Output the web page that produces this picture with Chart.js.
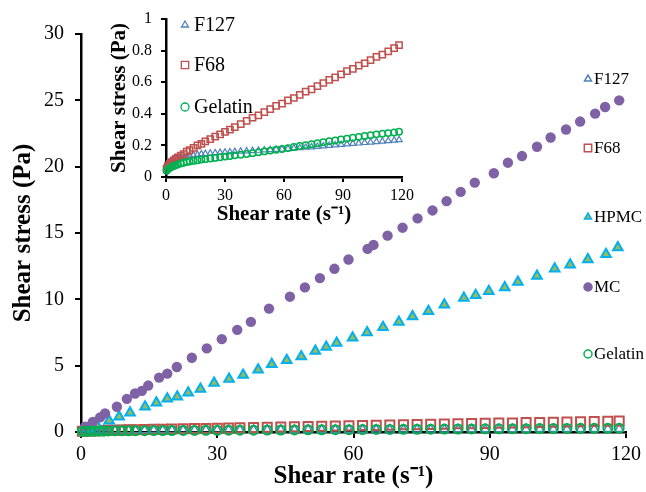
<!DOCTYPE html>
<html><head><meta charset="utf-8">
<script src="https://cdn.jsdelivr.net/npm/chart.js@4.4.0/dist/chart.umd.min.js"></script>
<style>
html,body{margin:0;padding:0;background:#fff;}
#wrap{position:relative;width:646px;height:492px;overflow:hidden;}
#main{position:absolute;left:0;top:0;}
#inset{position:absolute;left:96px;top:0;}
</style></head><body>
<div id="wrap">
<canvas id="main" width="646" height="492"></canvas>
<canvas id="inset" width="330" height="230"></canvas>
</div>
<script>
// ---- data ----
const seriesNames = ['F127', 'F68', 'HPMC', 'MC', 'Gelatin'];
const insetNames = ['F127', 'F68', 'Gelatin'];
const xTicks = [0, 30, 60, 90, 120];
const mainYTicks = [0, 5, 10, 15, 20, 25, 30];
const insetYTicks = [0, 0.2, 0.4, 0.6, 0.8, 1];

// shear rate values for the low-viscosity samples
const sampleX = [0.3, 1, 2, 3, 4, 5, 6, 7.5, 9, 10.5, 12, 14, 16, 18, 20, 22.5, 25, 27.5, 30, 32.5, 35, 38, 41, 44, 47, 50, 53, 56, 59, 62, 65, 68, 71, 74, 77, 80, 83, 86, 89, 92, 95, 98, 101, 104, 107, 110, 113, 116, 118.5];
const f127Y = [0.06, 0.075, 0.09, 0.1, 0.11, 0.115, 0.12, 0.125, 0.13, 0.133, 0.136, 0.139, 0.142, 0.145, 0.147, 0.15, 0.152, 0.154, 0.156, 0.158, 0.16, 0.162, 0.164, 0.166, 0.168, 0.17, 0.172, 0.174, 0.176, 0.178, 0.181, 0.184, 0.187, 0.19, 0.193, 0.196, 0.199, 0.202, 0.205, 0.208, 0.211, 0.214, 0.217, 0.22, 0.223, 0.226, 0.229, 0.232, 0.235];
const f68Y = [0.055, 0.07, 0.085, 0.095, 0.105, 0.115, 0.125, 0.135, 0.145, 0.16, 0.17, 0.185, 0.2, 0.21, 0.225, 0.24, 0.255, 0.27, 0.285, 0.3, 0.315, 0.335, 0.355, 0.375, 0.39, 0.41, 0.43, 0.45, 0.465, 0.485, 0.5, 0.52, 0.54, 0.555, 0.575, 0.595, 0.615, 0.63, 0.65, 0.67, 0.685, 0.705, 0.72, 0.74, 0.76, 0.775, 0.795, 0.815, 0.835];
const gelatinY = [0.04, 0.05, 0.058, 0.065, 0.07, 0.075, 0.08, 0.085, 0.09, 0.095, 0.098, 0.102, 0.106, 0.11, 0.113, 0.117, 0.121, 0.125, 0.129, 0.133, 0.137, 0.141, 0.146, 0.151, 0.156, 0.162, 0.167, 0.172, 0.177, 0.183, 0.19, 0.196, 0.202, 0.208, 0.214, 0.22, 0.226, 0.231, 0.237, 0.243, 0.249, 0.254, 0.26, 0.265, 0.27, 0.274, 0.278, 0.282, 0.286];

const hpmcX = [1.5, 3.5, 6.2, 8.4, 10.8, 14.1, 16.6, 19, 21.2, 23.6, 26.3, 29.3, 32.6, 35.7, 39, 42, 45.3, 48.5, 51.6, 54, 56.3, 59.8, 63, 66.5, 70, 73, 76.5, 80, 84.3, 86.9, 89.8, 93.3, 96.2, 100.4, 104.3, 107.7, 111.6, 115.6, 118.2];
const hpmcY = [0.25, 0.5, 0.85, 1.15, 1.45, 1.9, 2.2, 2.5, 2.65, 2.95, 3.25, 3.7, 4.0, 4.3, 4.7, 5.1, 5.4, 5.7, 6.1, 6.4, 6.7, 7.1, 7.5, 7.9, 8.3, 8.7, 9.1, 9.6, 10.1, 10.3, 10.6, 10.9, 11.3, 11.75, 12.3, 12.6, 13.0, 13.4, 13.9];

const mcX = [0.9, 2.6, 4.2, 5.3, 7.9, 10.1, 11.9, 13.4, 14.8, 17.2, 19.0, 21.1, 24.4, 27.7, 31.0, 34.4, 37.4, 41.4, 46.0, 49.3, 52.6, 55.8, 58.9, 63.1, 64.4, 67.5, 70.8, 74.1, 77.4, 80.5, 83.6, 86.7, 90.9, 94.0, 97.1, 100.4, 103.4, 106.8, 109.9, 113.2, 115.4, 118.5];
const mcY = [0.4, 0.75, 1.1, 1.4, 1.9, 2.5, 2.9, 3.1, 3.5, 4.1, 4.4, 4.9, 5.6, 6.3, 7.0, 7.7, 8.3, 9.3, 10.2, 10.9, 11.6, 12.3, 13.0, 13.8, 14.1, 14.8, 15.4, 16.1, 16.7, 17.4, 18.1, 18.8, 19.5, 20.3, 20.8, 21.5, 22.2, 22.8, 23.4, 24.0, 24.5, 25.0];

// ---- styles ----
const FONT = "'Liberation Serif','Times New Roman',serif";
const COL = {F127:'#4F81BD', F68:'#C0504D', HPMC:'#00B0F0', HPMCfill:'#9BBB59', MC:'#7F62A6', Gelatin:'#00B050'};
const xy = (xs, ys) => xs.map((x, i) => ({x: x, y: ys[i]}));

function marker(ctx, style, r, stroke, fill, bw, x, y) {
  ctx.save();
  ctx.strokeStyle = stroke; ctx.fillStyle = fill; ctx.lineWidth = bw;
  Chart.helpers.drawPoint(ctx, {pointStyle: style, radius: r, rotation: 0, borderWidth: bw}, x, y);
  ctx.restore();
}

const legendPlugin = {
  id: 'manualLegend',
  afterDraw(chart, args, opts) {
    const ctx = chart.ctx;
    const a = chart.chartArea;
    ctx.save();
    ctx.font = opts.fontSize + 'px ' + FONT;
    ctx.fillStyle = '#000';
    ctx.textBaseline = 'middle';
    ctx.textAlign = 'left';
    opts.items.forEach((it, i) => {
      const mx = a.left + opts.dx;
      const my = a.top + opts.dy[i];
      const ds = chart.data.datasets.find(d => d.label === it);
      marker(ctx, ds.pointStyle, opts.r * (ds.pointStyle === 'rect' ? 1.3 : 1), ds.borderColor, ds.backgroundColor, opts.bw, mx, my);
      ctx.fillStyle = '#000';
      ctx.fillText(it, mx + opts.gap, my + 1);
    });
    ctx.restore();
  }
};

const fmt = v => String(Math.round(v * 10) / 10);

function axis(min, max, step, tickSize, pad, tl, titleText, titleSize, titlePad, fitFn) {
  return {
    type: 'linear', min: min, max: max,
    ticks: {stepSize: step, color: '#000', font: {family: FONT, size: tickSize}, padding: pad, maxRotation: 0, autoSkip: false, callback: fmt},
    grid: {drawOnChartArea: false, drawTicks: true, tickLength: tl, color: '#000', lineWidth: 2},
    border: {display: true, color: '#000', width: 2.5},
    title: {display: true, text: titleText, color: '#000', font: {family: FONT, size: titleSize, weight: 'bold'}, padding: titlePad},
    afterFit: fitFn
  };
}

// ---- main chart ----
new Chart(document.getElementById('main'), {
  type: 'scatter',
  data: {datasets: [
    {label: seriesNames[0], data: xy(sampleX, f127Y), pointStyle: 'triangle', pointRadius: 5, borderColor: COL.F127, backgroundColor: 'rgba(255,255,255,0)', borderWidth: 1.5, order: 4, clip: false},
    {label: seriesNames[1], data: xy(sampleX, f68Y), pointStyle: 'rect', pointRadius: 6.4, borderColor: COL.F68, backgroundColor: 'rgba(255,255,255,0)', borderWidth: 2, order: 3, clip: false},
    {label: seriesNames[2], data: xy(hpmcX, hpmcY), pointStyle: 'triangle', pointRadius: 5.5, borderColor: COL.HPMC, backgroundColor: COL.HPMCfill, borderWidth: 2, order: 2, clip: false},
    {label: seriesNames[3], data: xy(mcX, mcY), pointStyle: 'circle', pointRadius: 5.2, borderColor: COL.MC, backgroundColor: COL.MC, borderWidth: 0, order: 1, clip: false},
    {label: seriesNames[4], data: xy(sampleX, gelatinY), pointStyle: 'circle', pointRadius: 4.5, borderColor: COL.Gelatin, backgroundColor: 'rgba(255,255,255,0)', borderWidth: 2, order: 0, clip: false}
  ]},
  options: {
    responsive: false, animation: false, devicePixelRatio: 1,
    layout: {padding: {top: 34, right: 20, left: 0, bottom: 0}},
    plugins: {
      legend: {display: false}, tooltip: {enabled: false},
      manualLegend: {items: seriesNames, fontSize: 17, dx: 507, dy: [45, 114, 183, 253, 320], gap: 6, r: 4, bw: 1.5}
    },
    scales: {
      x: axis(xTicks[0], xTicks[xTicks.length - 1], xTicks[1] - xTicks[0], 20, 5, 6, 'Shear rate (s\u207B\u00B9)', 25, {top: 0, bottom: 0}, s => { s.height = 60; }),
      y: axis(mainYTicks[0], mainYTicks[mainYTicks.length - 1], mainYTicks[1] - mainYTicks[0], 20, 11, 6, 'Shear stress (Pa)', 25, {top: 9, bottom: 0}, s => { s.width = 81; })
    }
  },
  plugins: [legendPlugin]
});

// ---- inset chart ----
new Chart(document.getElementById('inset'), {
  type: 'scatter',
  data: {datasets: [
    {label: insetNames[0], data: xy(sampleX, f127Y), pointStyle: 'triangle', pointRadius: 3.6, borderColor: COL.F127, backgroundColor: 'rgba(255,255,255,0)', borderWidth: 1.2, order: 2, clip: false},
    {label: insetNames[1], data: xy(sampleX, f68Y), pointStyle: 'rect', pointRadius: 4.4, borderColor: COL.F68, backgroundColor: 'rgba(255,255,255,0)', borderWidth: 1.5, order: 1, clip: false},
    {label: insetNames[2], data: xy(sampleX, gelatinY), pointStyle: 'circle', pointRadius: 3.2, borderColor: COL.Gelatin, backgroundColor: 'rgba(255,255,255,0)', borderWidth: 1.5, order: 0, clip: false}
  ]},
  options: {
    responsive: false, animation: false, devicePixelRatio: 1,
    layout: {padding: {top: 19, right: 24, left: 0, bottom: 0}},
    plugins: {
      legend: {display: false}, tooltip: {enabled: false},
      manualLegend: {items: insetNames, fontSize: 20, dx: 19, dy: [6, 46, 88], gap: 9, r: 4, bw: 1.3}
    },
    scales: {
      x: axis(xTicks[0], xTicks[xTicks.length - 1], xTicks[1] - xTicks[0], 16, 4, 5, 'Shear rate (s\u207B\u00B9)', 21, {top: 0, bottom: 3}, s => { s.height = 53; }),
      y: axis(insetYTicks[0], insetYTicks[insetYTicks.length - 1], insetYTicks[1] - insetYTicks[0], 16, 9, 5, 'Shear stress (Pa)', 21, {top: 11, bottom: 0}, s => { s.width = 70; })
    }
  },
  plugins: [legendPlugin]
});
</script>
</body></html>
